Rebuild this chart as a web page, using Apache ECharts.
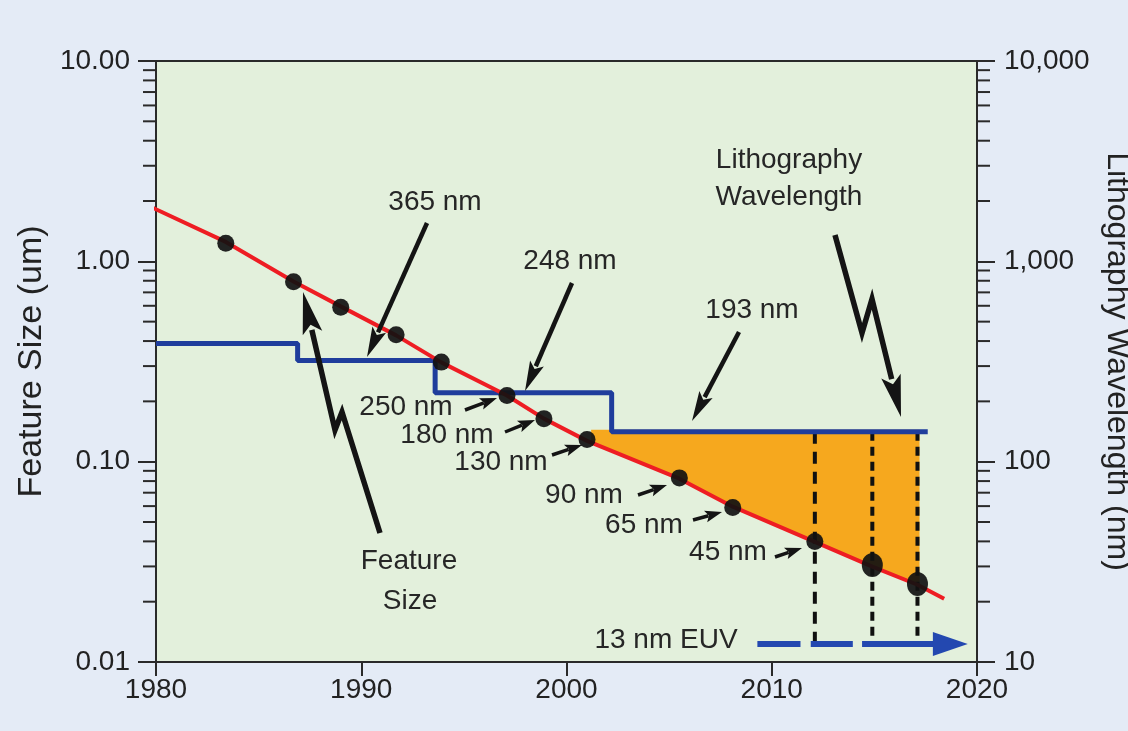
<!DOCTYPE html>
<html>
<head>
<meta charset="utf-8">
<script src="https://cdn.jsdelivr.net/npm/echarts@6/dist/echarts.min.js"></script>
<style>
html,body{margin:0;padding:0;background:#e4ebf6;}
#c{width:1128px;height:731px;}
</style>
</head>
<body>
<div id="c"></div>
<script>
// ---------- DATA ----------
// Feature size trend line (year, um)
const featureLineYears = [1979.6, 1983.4, 1986.7, 1989.0, 1991.7, 1993.9, 1997.1, 1998.9, 2001.0, 2005.5, 2008.1, 2012.1, 2014.9, 2017.1, 2018.4];
const featureLineSizes = [1.9, 1.25, 0.794, 0.596, 0.427, 0.313, 0.214, 0.164, 0.127, 0.0822, 0.0596, 0.0398, 0.0299, 0.0243, 0.0207];
// Technology node dots (year, um)
const nodeYears = [1983.4, 1986.7, 1989.0, 1991.7, 1993.9, 1997.1, 1998.9, 2001.0, 2005.5, 2008.1, 2012.1, 2014.9, 2017.1];
const nodeSizes = [1.23, 0.79, 0.59, 0.43, 0.314, 0.214, 0.164, 0.129, 0.083, 0.059, 0.040, 0.0305, 0.0245];
// Lithography wavelength steps (year of change, nm)
const waveYears = [1980, 1986.9, 1993.6, 2002.2, 2017.6];
const waveNm = [389, 320, 221, 141, 141];
// Orange gap region (year, um)
const gapYears = [2001.2, 2017.2, 2017.2, 2014.9, 2012.1, 2008.1, 2005.5, 2001.2];
const gapSizes = [0.1445, 0.1445, 0.0241, 0.0299, 0.0398, 0.0596, 0.0822, 0.126];
// Dashed verticals at future nodes (year), from wavelength (nm) to EUV (nm)
const futureNodeYears = [2012.1, 2014.9, 2017.1];
const dropTopNm = 141;
const euvNm = 12.3;
// EUV arrow segments (start year, end year) and head (base year, tip year)
const euvSegStart = [2009.3, 2011.9, 2014.4];
const euvSegEnd = [2011.4, 2013.95, 2018.0];
const euvHead = [2017.85, 2019.55];
// Axes
const xMin = 1980, xMax = 2020, xStep = 10;
const xTickValues = [1980, 1990, 2000, 2010, 2020];
const xTickLabels = ['1980', '1990', '2000', '2010', '2020'];
const leftTickValues = [0.01, 0.1, 1, 10];
const leftTickLabels = ['0.01', '0.10', '1.00', '10.00'];
const rightTickValues = [10, 100, 1000, 10000];
const rightTickLabels = ['10', '100', '1,000', '10,000'];
const minorMultipliers = [2, 3, 4, 5, 6, 7, 8, 9];
const leftDecades = [0.01, 0.1, 1];
const rightDecades = [10, 100, 1000];

// ---------- helpers ----------
const FONT = '"Liberation Sans", Arial, Helvetica, sans-serif';
function lookupLog(v, vals, labels) {
  for (let i = 0; i < vals.length; i++) {
    if (Math.abs(Math.log10(v) - Math.log10(vals[i])) < 1e-6) return labels[i];
  }
  return '';
}
function lookupLin(v, vals, labels) {
  for (let i = 0; i < vals.length; i++) {
    if (Math.abs(v - vals[i]) < 1e-6) return labels[i];
  }
  return '';
}
const leftMinor = [], rightMinor = [];
leftDecades.forEach(d => minorMultipliers.forEach(m => leftMinor.push([xMin, d * m])));
rightDecades.forEach(d => minorMultipliers.forEach(m => rightMinor.push([xMax, d * m])));

function arrow(pts, headLen, headW, lw) {
  const n = pts.length, tip = pts[n - 1], prev = pts[n - 2];
  const dx = tip[0] - prev[0], dy = tip[1] - prev[1], L = Math.hypot(dx, dy);
  const ux = dx / L, uy = dy / L;
  const bx = tip[0] - ux * headLen, by = tip[1] - uy * headLen;
  const px = -uy, py = ux;
  const shaft = pts.slice(0, n - 1).concat([[bx + ux * 3, by + uy * 3]]);
  return [
    {type: 'polyline', shape: {points: shaft}, style: {stroke: '#141414', lineWidth: lw, lineJoin: 'miter', fill: null}, z: 100, silent: true},
    {type: 'polygon', shape: {points: [tip, [bx + px * headW / 2, by + py * headW / 2], [bx + ux * headLen * 0.2, by + uy * headLen * 0.2], [bx - px * headW / 2, by - py * headW / 2]]}, style: {fill: '#141414'}, z: 100, silent: true}
  ];
}
function label(text, x, y) {
  return {type: 'text', x: x, y: y, z: 100, silent: true,
    style: {text: text, font: '28px ' + FONT, fill: '#262626', align: 'center', verticalAlign: 'middle'}};
}

const annotations = [].concat(
  label('365 nm', 435, 202),
  label('248 nm', 570, 261),
  label('193 nm', 752, 310),
  label('Lithography', 789, 160),
  label('Wavelength', 789, 197),
  label('250 nm', 406, 407),
  label('180 nm', 447, 435),
  label('130 nm', 501, 462),
  label('90 nm', 584, 495),
  label('65 nm', 644, 525),
  label('45 nm', 728, 552),
  label('13 nm EUV', 666, 640),
  label('Feature', 409, 561),
  label('Size', 410, 601),
  arrow([[427, 223], [367, 357]], 30, 15, 4.5),
  arrow([[572, 283], [525, 391]], 30, 15, 4.5),
  arrow([[739, 332], [692, 421]], 30, 15, 4.5),
  arrow([[835, 235], [862, 333], [872, 299], [901, 417]], 42, 20, 5.5),
  arrow([[380, 533], [342, 412], [335, 430], [303, 292]], 42, 20, 5.5),
  arrow([[465, 410], [497, 398]], 17, 12, 3.5),
  arrow([[505, 432], [535, 420]], 17, 12, 3.5),
  arrow([[552, 455], [582, 445]], 17, 12, 3.5),
  arrow([[638, 495], [667, 485]], 17, 12, 3.5),
  arrow([[693, 520], [722, 512]], 17, 12, 3.5),
  arrow([[775, 557], [802, 548]], 17, 12, 3.5)
);

const chart = echarts.init(document.getElementById('c'), null, {renderer: 'canvas'});

const axisLineStyle = {color: '#2a2a2a', width: 2};

const dropSeries = futureNodeYears.map((yr, i) => ({
  type: 'line', yAxisIndex: 1, silent: true, symbol: 'none', z: 4,
  data: [[yr, dropTopNm], [yr, euvNm]],
  lineStyle: {color: '#111', width: 4, type: i === 0 ? [12, 8] : [9, 6]}
}));

const option = {
  backgroundColor: '#e4ebf6',
  animation: false,
  grid: {left: 156, right: 151, top: 61, bottom: 69, outerBoundsMode: 'none', containLabel: false,
    show: true, backgroundColor: '#e3f0dc', borderColor: '#2a2a2a', borderWidth: 2},
  xAxis: {
    type: 'value', min: xMin, max: xMax, interval: xStep,
    axisLine: {show: true, lineStyle: axisLineStyle},
    axisTick: {show: true, length: 14, lineStyle: axisLineStyle},
    axisLabel: {fontSize: 28, color: '#222', fontFamily: FONT, margin: 14,
      formatter: v => lookupLin(v, xTickValues, xTickLabels)},
    splitLine: {show: false}
  },
  yAxis: [{
    type: 'log', logBase: 10, min: 0.01, max: 10, position: 'left',
    name: 'Feature Size (um)', nameLocation: 'middle', nameGap: 94,
    nameTextStyle: {fontSize: 34, color: '#222', fontFamily: FONT},
    axisLine: {show: true, lineStyle: axisLineStyle},
    axisTick: {show: true, length: 18, lineStyle: axisLineStyle},
    axisLabel: {fontSize: 28, color: '#222', fontFamily: FONT, margin: 26,
      formatter: v => lookupLog(v, leftTickValues, leftTickLabels)},
    splitLine: {show: false}
  }, {
    type: 'log', logBase: 10, min: 10, max: 10000, position: 'right',
    name: 'Lithography Wavelength (nm)', nameLocation: 'middle', nameGap: 110, nameRotate: -90,
    nameTextStyle: {fontSize: 32, color: '#222', fontFamily: FONT},
    axisLine: {show: true, lineStyle: axisLineStyle},
    axisTick: {show: true, length: 18, lineStyle: axisLineStyle},
    axisLabel: {fontSize: 28, color: '#222', fontFamily: FONT, margin: 27,
      formatter: v => lookupLog(v, rightTickValues, rightTickLabels)},
    splitLine: {show: false}
  }],
  graphic: {elements: annotations},
  series: [
    // minor ticks, left axis
    {type: 'custom', silent: true, clip: false, z: 10, yAxisIndex: 0, data: leftMinor,
      renderItem: (params, api) => {
        const p = api.coord([api.value(0), api.value(1)]);
        return {type: 'line', shape: {x1: p[0] - 13, y1: p[1], x2: p[0], y2: p[1]}, style: {stroke: '#2a2a2a', lineWidth: 2}};
      }},
    // minor ticks, right axis
    {type: 'custom', silent: true, clip: false, z: 10, yAxisIndex: 1, data: rightMinor,
      renderItem: (params, api) => {
        const p = api.coord([api.value(0), api.value(1)]);
        return {type: 'line', shape: {x1: p[0], y1: p[1], x2: p[0] + 13, y2: p[1]}, style: {stroke: '#2a2a2a', lineWidth: 2}};
      }},
    // orange gap region
    {type: 'custom', silent: true, z: 1, yAxisIndex: 0,
      data: gapYears.map((y, i) => [y, gapSizes[i]]),
      renderItem: (params, api) => {
        if (params.dataIndex !== 0) return null;
        const pts = gapYears.map((y, i) => api.coord([y, gapSizes[i]]));
        return {type: 'polygon', shape: {points: pts}, style: {fill: '#f6a81e'}};
      }},
    // wavelength steps
    {type: 'line', yAxisIndex: 1, step: 'end', symbol: 'none', silent: true, z: 5,
      data: waveYears.map((y, i) => [y, waveNm[i]]),
      lineStyle: {color: '#1f3d9c', width: 5}},
    ...dropSeries,
    // EUV arrow shaft
    {type: 'custom', silent: true, z: 6, yAxisIndex: 1,
      data: euvSegStart.map((s, i) => [s, euvSegEnd[i], euvNm]),
      encode: {x: [0, 1], y: 2},
      renderItem: (params, api) => {
        const a = api.coord([api.value(0), api.value(2)]);
        const b = api.coord([api.value(1), api.value(2)]);
        return {type: 'line', shape: {x1: a[0], y1: a[1], x2: b[0], y2: b[1]}, style: {stroke: '#2348b0', lineWidth: 6}};
      }},
    // EUV arrow head
    {type: 'custom', silent: true, z: 6, yAxisIndex: 1, clip: false,
      data: [[euvHead[0], euvHead[1], euvNm]],
      encode: {x: [0, 1], y: 2},
      renderItem: (params, api) => {
        const a = api.coord([api.value(0), api.value(2)]);
        const b = api.coord([api.value(1), api.value(2)]);
        return {type: 'polygon', shape: {points: [[a[0], a[1] - 12], [b[0], b[1]], [a[0], a[1] + 12]]}, style: {fill: '#2348b0'}};
      }},
    // feature size trend
    {type: 'line', yAxisIndex: 0, symbol: 'none', silent: true, z: 7, clip: false,
      data: featureLineYears.map((y, i) => [y, featureLineSizes[i]]),
      lineStyle: {color: '#ee1d23', width: 4}},
    // node dots
    {type: 'scatter', yAxisIndex: 0, silent: true, z: 8,
      data: nodeYears.map((y, i) => [y, nodeSizes[i]]),
      symbolSize: (v, p) => p.dataIndex >= 11 ? [21, 24] : 17,
      itemStyle: {color: '#111', opacity: 0.92}}
  ]
};
chart.setOption(option);
</script>
</body>
</html>
